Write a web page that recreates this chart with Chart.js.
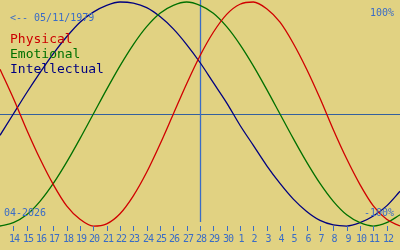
<!DOCTYPE html>
<html>
<head>
<meta charset="utf-8">
<script src="https://cdn.jsdelivr.net/npm/chart.js@4/dist/chart.umd.min.js"></script>
<style>
  html, body { margin: 0; padding: 0; background: #e1d282; }
  #wrap { width: 400px; height: 250px; }
</style>
</head>
<body>
<div id="wrap"><canvas id="chart" width="400" height="250"></canvas></div>
<script>
// biorhythm, one value per day from 13 Apr to 13 May (centre = 28 Apr)
var days         = [13, 14, 15, 16, 17, 18, 19, 20, 21, 22, 23, 24, 25, 26, 27, 28, 29, 30, 1, 2, 3, 4, 5, 6, 7, 8, 9, 10, 11, 12, 13];
var physical     = [40, 14, -14, -40, -63, -82, -94, -100, -98, -89, -73, -52, -27, 0, 27, 52, 73, 89, 98, 100, 94, 82, 63, 40, 14, -14, -40, -63, -82, -94, -100];
var emotional    = [-100, -97, -90, -78, -62, -43, -22, 0, 22, 43, 62, 78, 90, 97, 100, 97, 90, 78, 62, 43, 22, 0, -22, -43, -62, -78, -90, -97, -100, -97, -90];
var intellectual = [-19, 0, 19, 37, 54, 69, 82, 91, 97, 100, 99, 95, 87, 76, 62, 46, 28, 10, -10, -28, -46, -62, -76, -87, -95, -99, -100, -97, -91, -82, -69];
var tickLabels   = ['14', '15', '16', '17', '18', '19', '20', '21', '22', '23', '24', '25', '26', '27', '28', '29', '30', '1', '2', '3', '4', '5', '6', '7', '8', '9', '10', '11', '12'];
var birthText = '<-- 05/11/1979';
var monthText = '04-2026';
var centerIndex = 14;

var BG = '#e1d282', BLUE = '#3a6cc6';

function pts(arr) {
  return arr.map(function(v, i) { return { x: i - 1, y: v }; });
}

var bioPlugin = {
  id: 'bio',
  beforeDraw: function(chart) {
    var c = chart.ctx;
    c.save();
    c.fillStyle = BG;
    c.fillRect(0, 0, chart.width, chart.height);
    c.restore();
  },
  beforeDatasetsDraw: function(chart) {
    var c = chart.ctx, xs = chart.scales.x, ys = chart.scales.y, a = chart.chartArea;
    c.save();
    c.strokeStyle = '#34609e';
    c.lineWidth = 1;
    var y0 = Math.round(ys.getPixelForValue(0)) + 0.5;
    c.beginPath(); c.moveTo(a.left, y0); c.lineTo(a.right, y0); c.stroke();
    var xc = Math.round(xs.getPixelForValue(centerIndex)) + 0.5;
    c.strokeStyle = BLUE;
    c.lineWidth = 1.3;
    c.beginPath(); c.moveTo(xc, a.top); c.lineTo(xc, a.bottom - 28); c.stroke();
    c.restore();
  },
  afterDatasetsDraw: function(chart) {
    var c = chart.ctx, xs = chart.scales.x, a = chart.chartArea;
    c.save();
    // day ticks
    c.strokeStyle = BLUE;
    c.fillStyle = BLUE;
    c.lineWidth = 1;
    c.font = '10px "DejaVu Sans Mono", monospace';
    c.textAlign = 'center';
    c.textBaseline = 'alphabetic';
    c.letterSpacing = '-1px';
    tickLabels.forEach(function(lab, i) {
      var x = Math.round(xs.getPixelForValue(i)) + 0.5;
      c.beginPath(); c.moveTo(x, a.bottom - 24); c.lineTo(x, a.bottom - 19); c.stroke();
      c.fillText(lab, x + 0.5, a.bottom - 8);
    });
    c.letterSpacing = '0px';
    // corner texts
    c.textAlign = 'left';
    c.fillText(birthText, 10, 21);
    c.fillText(monthText, 4, 216);
    c.textAlign = 'right';
    c.fillText('100%', 394, 16);
    c.fillText('-100%', 394, 216);
    // legend
    c.textAlign = 'left';
    c.font = '13px "DejaVu Sans Mono", monospace';
    c.fillStyle = '#cc0000'; c.fillText('Physical', 10, 43);
    c.fillStyle = '#007000'; c.fillText('Emotional', 10, 58);
    c.fillStyle = '#000080'; c.fillText('Intellectual', 10, 73);
    c.restore();
  }
};

function line(data, color) {
  return { data: pts(data), borderColor: color, borderWidth: 1.3, pointRadius: 0,
           fill: false, cubicInterpolationMode: 'monotone' };
}

new Chart(document.getElementById('chart'), {
  type: 'line',
  data: {
    datasets: [
      line(physical, '#d00000'),
      line(emotional, '#007000'),
      line(intellectual, '#000080')
    ]
  },
  options: {
    responsive: false,
    animation: false,
    layout: { padding: 0 },
    plugins: { legend: { display: false }, tooltip: { enabled: false } },
    scales: {
      x: { type: 'linear', display: false, min: -1, max: 29 },
      y: { display: false, min: -121.4, max: 101.8 }
    }
  },
  plugins: [bioPlugin]
});
</script>
</body>
</html>
